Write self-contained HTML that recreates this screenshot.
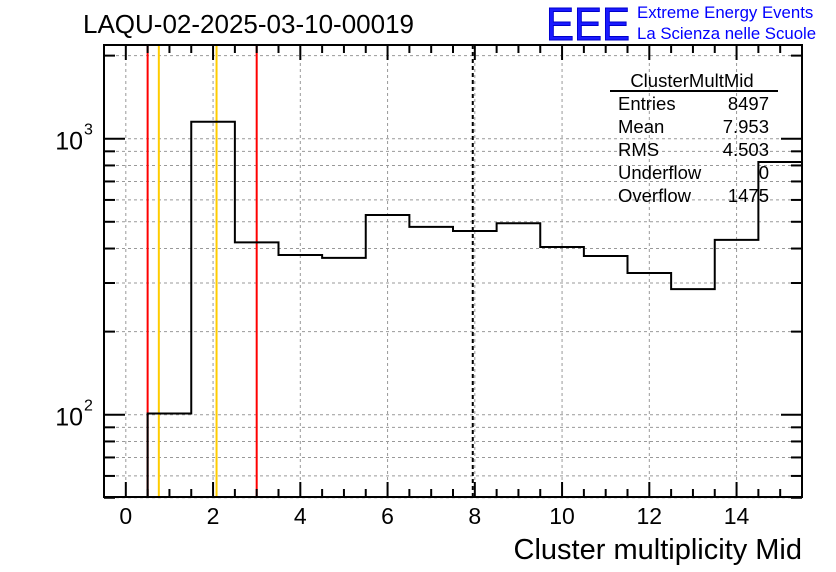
<!DOCTYPE html>
<html><head><meta charset="utf-8"><style>
body{margin:0;background:#fff;}
svg{display:block;font-family:"Liberation Sans",Arial,sans-serif;}
</style></head><body>
<svg id="c" width="836" height="572" viewBox="0 0 836 572">
<rect width="836" height="572" fill="#fff"/>
<g id="grid"></g>
<g id="marks"></g>
<g id="hist"></g>
<g id="axes"></g>
<text x="83" y="33" font-size="26">LAQU-02-2025-03-10-00019</text>
<text x="546" y="40" font-size="46" fill="#1a1aff" stroke="#0000cc" stroke-width="1" textLength="84" lengthAdjust="spacingAndGlyphs">EEE</text>
<text x="637" y="18" font-size="16.8" fill="#0000ff">Extreme Energy Events</text>
<text x="637" y="39" font-size="16.8" fill="#0000ff">La Scienza nelle Scuole</text>
<g font-size="18.5">
<text x="692" y="87" text-anchor="middle">ClusterMultMid</text>
<line x1="610" y1="91" x2="778" y2="91" stroke="#000" stroke-width="2"/>
<text x="618" y="110">Entries</text><text x="769" y="110" text-anchor="end">8497</text>
<text x="618" y="133">Mean</text><text x="769" y="133" text-anchor="end">7.953</text>
<text x="618" y="156">RMS</text><text x="769" y="156" text-anchor="end">4.503</text>
<text x="618" y="179">Underflow</text><text x="769" y="179" text-anchor="end">0</text>
<text x="618" y="202">Overflow</text><text x="769" y="202" text-anchor="end">1475</text>
</g>
<text x="802" y="559" font-size="29" text-anchor="end">Cluster multiplicity Mid</text>
</svg>
<script>
const binCenters=[1,2,3,4,5,6,7,8,9,10,11,12,13,14,15];
const binCounts=[101,1152,421,379,370,529,479,463,494,405,376,326,285,430,823];
const xTickLabels=[0,2,4,6,8,10,12,14];
const redLines=[0.5,3.0];
const orangeLines=[0.757,2.08];
const meanValue=[7.953];

const L=104,R=802,T=45,B=497;
const XMIN=-0.5,XMAX=15.5;
const Y3=138.7,DEC=276;
function sx(v){return L+(v-XMIN)/(XMAX-XMIN)*(R-L);}
function sy(v){return Y3-DEC*(Math.log10(v)-3);}
const NS="http://www.w3.org/2000/svg";
function mk(tag,attrs,parent){const e=document.createElementNS(NS,tag);for(const k in attrs)e.setAttribute(k,attrs[k]);parent.appendChild(e);return e;}
const grid=document.getElementById('grid'),axes=document.getElementById('axes'),hist=document.getElementById('hist'),marks=document.getElementById('marks');

const yTicks=[];
for(const d of [10,100,1000]){for(let m=1;m<10;m++){const v=m*d;if(v>=50&&v<=2185)yTicks.push(v);}}
yTicks.forEach(v=>{
  const y=sy(v);const major=(v===100||v===1000);
  const g=mk('line',{x1:L,x2:R,y1:y,y2:y,stroke:'#999','stroke-width':1,'stroke-dasharray':'3,3'},grid);
  
  
  const len=major?21:11;
  mk('line',{x1:L,x2:L+len,y1:y,y2:y,stroke:'#000','stroke-width':2},axes);
  mk('line',{x1:R,x2:R-len,y1:y,y2:y,stroke:'#000','stroke-width':2},axes);
});
[[100,'2'],[1000,'3']].forEach(([v,e])=>{
  const t=mk('text',{x:83,y:sy(v)+11,'font-size':25,'text-anchor':'end'},axes);
  t.textContent='10';
  
  
  const s=mk('text',{x:84,y:sy(v)-4,'font-size':16},axes);s.textContent=e;
});
for(let v=0;v<=15;v+=0.5){
  const x=sx(v);const major=(v%2===0);const len=major?15:8;
  mk('line',{x1:x,x2:x,y1:B,y2:B-len,stroke:'#000','stroke-width':2},axes);
  mk('line',{x1:x,x2:x,y1:T,y2:T+len,stroke:'#000','stroke-width':2},axes);
}
xTickLabels.forEach(v=>{
  const x=sx(v);
  const g=mk('line',{x1:x,x2:x,y1:T,y2:B,stroke:'#999','stroke-width':1,'stroke-dasharray':'3,3'},grid);
  
  
  const t=mk('text',{x:x,y:524,'font-size':23,'text-anchor':'middle'},axes);
  t.textContent=v;
  
  
});
const f=mk('rect',{x:L,y:T,width:R-L,height:B-T,fill:'none',stroke:'#000','stroke-width':2},axes);


redLines.forEach(v=>{const l=mk('line',{x1:sx(v),x2:sx(v),y1:T,y2:B,stroke:'#ff0000','stroke-width':2},marks);
  
  });
orangeLines.forEach(v=>{const l=mk('line',{x1:sx(v),x2:sx(v),y1:T,y2:B,stroke:'#ffcc00','stroke-width':2},marks);
  
  });
meanValue.forEach(v=>{const l=mk('line',{x1:sx(v),x2:sx(v),y1:T,y2:B,stroke:'#000','stroke-width':2,'stroke-dasharray':'4,3'},marks);
  
  });
let d='M'+sx(binCenters[0]-0.5)+','+B;
binCenters.forEach((c,i)=>{
  const y=Math.max(T,Math.min(B,sy(binCounts[i])));
  d+=' L'+sx(c-0.5)+','+y+' L'+Math.min(R,sx(c+0.5))+','+y;
});
const p=mk('path',{d:d,fill:'none',stroke:'#000','stroke-width':2},hist);


</script>
</body></html>
